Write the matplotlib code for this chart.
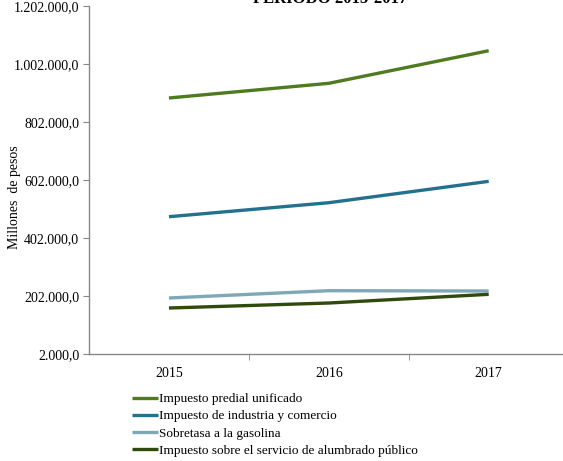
import matplotlib
matplotlib.use("Agg")
import matplotlib.pyplot as plt
from matplotlib.ticker import FuncFormatter, FixedLocator

years = ["2015", "2016", "2017"]
predial = [884800, 935400, 1047800]
industria = [475400, 523700, 597400]
gasolina = [195100, 220300, 219200]
alumbrado = [160600, 177800, 207800]
series_names = ["Impuesto predial unificado", "Impuesto de industria y comercio",
                "Sobretasa a la gasolina", "Impuesto sobre el servicio de alumbrado público"]
colors = ["#4F7A1F", "#24708F", "#7EA8B6", "#2F4A0C"]

plt.rcParams['font.family'] = ['Liberation Serif', 'DejaVu Serif']

W, H = 563, 461
fig = plt.figure(figsize=(W/100, H/100), dpi=100)
ax = fig.add_axes([89/W, 1-354/H, (W-89)/W + 0.01, (354-6)/H])

x = list(range(len(years)))
for vals, name, c in zip([predial, industria, gasolina, alumbrado], series_names, colors):
    ax.plot(x, vals, color=c, lw=2.4, label=name, solid_capstyle='butt')

ax.set_xlim(-0.5, 2.5)
ax.set_ylim(2000, 1202000)
ax.set_yticks([2000 + 200000*i for i in range(7)])
ax.yaxis.set_major_formatter(FuncFormatter(lambda v, p: f"{v:,.1f}".replace(",", "X").replace(".", ",").replace("X", ".")))
ax.set_xticks(x)
ax.set_xticklabels(years)
ax.xaxis.set_minor_locator(FixedLocator([0.5, 1.5]))
ax.tick_params(axis='x', which='major', length=0, pad=9, labelsize=10)
ax.tick_params(axis='x', which='minor', length=4, color='#888888', direction='out')
ax.tick_params(axis='y', length=4, color='#888888', labelsize=10, pad=3)
for s in ['top', 'right']:
    ax.spines[s].set_visible(False)
for s in ['left', 'bottom']:
    ax.spines[s].set_color('#888888')
    ax.spines[s].set_linewidth(1.0)

fig.text(15/W, 1-197/H, "Millones  de pesos", rotation=90, ha='center', va='center', fontsize=10)
fig.text(330/W, 1-(-1)/H, "PERIODO 2015-2017", ha='center', va='center', fontsize=12, fontweight='bold')

fig.legend(loc='upper left', bbox_to_anchor=(132/W, 1-393/H), frameon=False, fontsize=9.5,
           handlelength=2.0, handletextpad=0.05, labelspacing=0.38, borderaxespad=0, borderpad=0)

fig.savefig("out.png", dpi=100)
